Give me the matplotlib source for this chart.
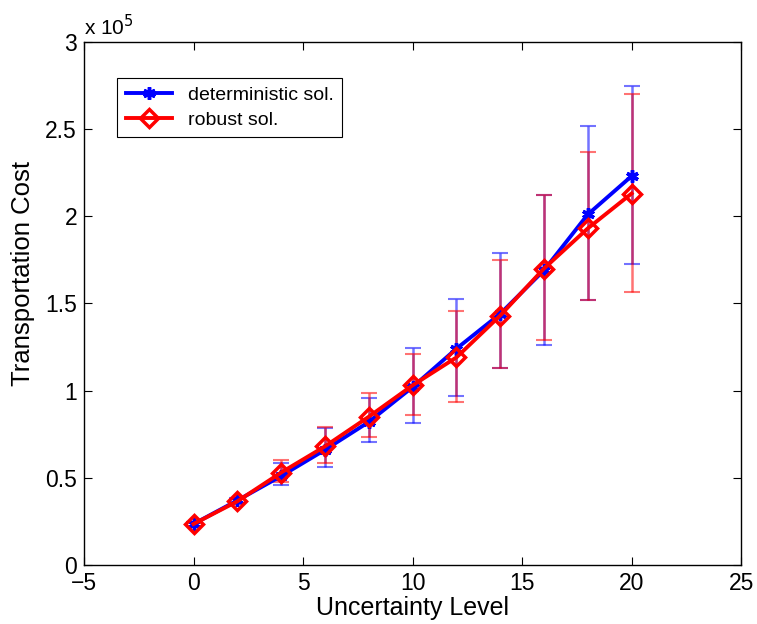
import matplotlib.pyplot as plt
import numpy as np
from matplotlib.ticker import FuncFormatter

plt.rcParams['font.family'] = ['Liberation Sans', 'DejaVu Sans']

# uncertainty levels
levels = [0, 2, 4, 6, 8, 10, 12, 14, 16, 18, 20]

# deterministic solution: mean, lower and upper error bar ends
det_mean = [23500, 37000, 51000, 66000, 82000, 102000, 124000, 144000, 169000, 201000, 223000]
det_low = [22500, 35500, 45900, 56000, 70500, 81300, 97100, 112800, 126200, 151700, 172700]
det_high = [24500, 38500, 58300, 78400, 96000, 124700, 152600, 178800, 212300, 252000, 274800]

# robust solution
rob_mean = [23500, 36500, 53000, 68000, 85000, 103000, 119000, 143000, 170000, 193000, 213000]
rob_low = [22500, 35000, 47800, 58300, 73400, 86000, 93700, 113200, 128900, 151700, 156500]
rob_high = [24500, 38000, 60200, 79300, 98700, 120900, 145900, 174600, 212300, 236700, 270000]

det_err = [np.subtract(det_mean, det_low), np.subtract(det_high, det_mean)]
rob_err = [np.subtract(rob_mean, rob_low), np.subtract(rob_high, rob_mean)]

fig = plt.figure(figsize=(7.57, 6.24), dpi=100)
ax = fig.add_axes([0.111, 0.0946, 0.868, 0.8384])

# error bars (semi transparent, drawn under the lines)
ax.errorbar(levels, det_mean, yerr=det_err, fmt='none', ecolor=(0, 0, 1, 0.55),
            elinewidth=1.8, capsize=6, capthick=1.5, zorder=1)
ax.errorbar(levels, rob_mean, yerr=rob_err, fmt='none', ecolor=(1, 0, 0, 0.55),
            elinewidth=1.8, capsize=6, capthick=1.5, zorder=1)

ax.plot(levels, det_mean, color='blue', lw=2.8, marker=(6, 2, 0), ms=9,
        mew=2.5, label='deterministic sol.', zorder=3)
ax.plot(levels, rob_mean, color='red', lw=2.8, marker='D', ms=9, mfc='none',
        mew=2.5, label='robust sol.', zorder=4)

ax.set_xlim(-5, 25)
ax.set_ylim(0, 300000)
ax.set_xticks([-5, 0, 5, 10, 15, 20, 25])
ax.set_yticks(np.arange(0, 300001, 50000))
ax.yaxis.set_major_formatter(FuncFormatter(lambda v, p: '%g' % (v / 1e5)))
ax.tick_params(direction='in', top=True, right=True, labelsize=16.5, length=6, width=0.8)
ax.tick_params(axis='x', pad=5)
ax.tick_params(axis='y', pad=5)
for s in ax.spines.values():
    s.set_linewidth(1.0)

ax.text(0.0, 1.005, 'x 10$^5$', transform=ax.transAxes, fontsize=15, va='bottom', ha='left')

ax.set_xlabel('Uncertainty Level', fontsize=18, labelpad=1)
ax.set_ylabel('Transportation Cost', fontsize=18.5)
ax.yaxis.set_label_coords(-0.075, 0.558)

leg = ax.legend(loc='upper left', bbox_to_anchor=(0.05, 0.931), fontsize=14,
                fancybox=False, edgecolor='black', framealpha=1,
                handlelength=2.4, borderpad=0.45, labelspacing=0.35, borderaxespad=0)
leg.get_frame().set_linewidth(0.8)

fig.savefig('out.png', dpi=100)
